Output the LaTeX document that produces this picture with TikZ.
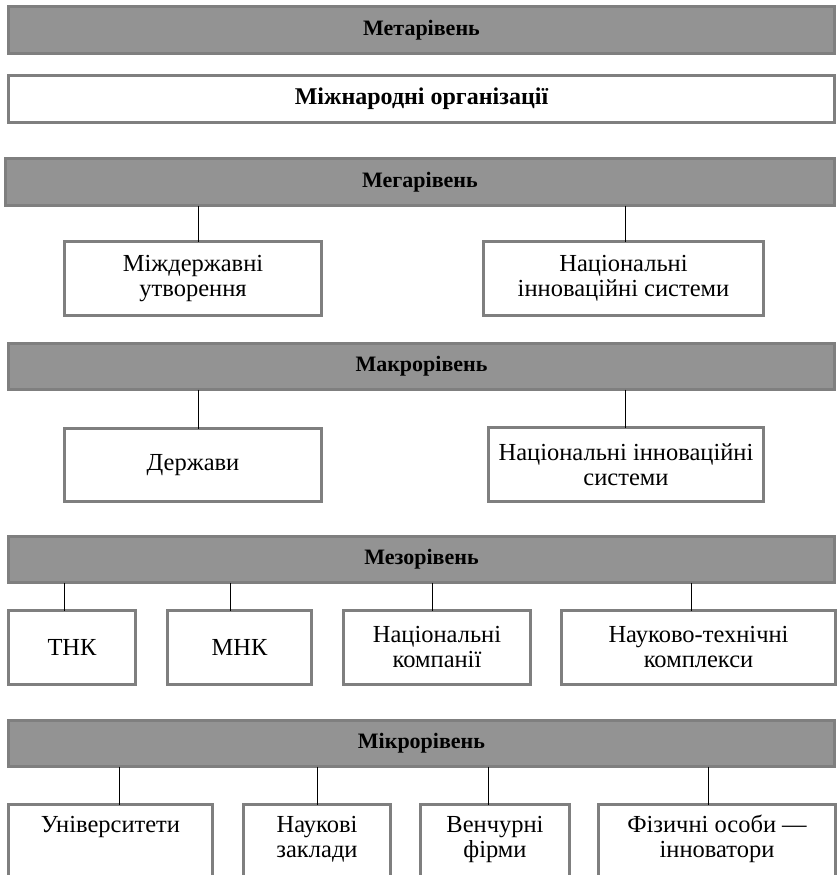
\documentclass[tikz,border=0pt]{standalone}
\usepackage{fontspec}
\setmainfont{Liberation Serif}
\newcommand{\firstln}{\rule{0pt}{20pt}}
\begin{document}
\begin{tikzpicture}[x=1pt,y=-1pt,
  barc/.style={draw=bordc,fill=barfill,line width=3pt,inner sep=0pt,outer sep=0pt,
    font=\fontsize{22}{25}\selectfont\bfseries,minimum height=47pt},
  boxc/.style={draw=bordc,fill=white,line width=3pt,inner sep=0pt,outer sep=0pt,
    font=\fontsize{24.5}{25}\selectfont,align=center},
  topbox/.style={boxc,anchor=north,inner ysep=7.5pt,text depth=70pt},
  link/.style={draw=black,line width=1pt}]
\definecolor{barfill}{RGB}{147,147,147}
\definecolor{bordc}{RGB}{127,127,127}
\useasboundingbox (0,0) rectangle (837,875);
\clip (0,0) rectangle (837,875);
% Meta
\node[barc,minimum width=826pt] (meta) at (421.5,30) {Метарівень};
\node[boxc,minimum width=826pt,minimum height=47pt,font=\fontsize{24}{25}\selectfont\bfseries] (intl) at (421.5,99) {Міжнародні організації};
% Mega
\node[barc,minimum width=829pt] (mega) at (420,182) {Мегарівень};
\node[boxc,minimum width=257pt,minimum height=74pt] (mega1) at (193,278.5) {Міждержавні\\утворення};
\node[boxc,minimum width=280pt,minimum height=74pt] (mega2) at (623.5,278.5) {Національні\\інноваційні системи};
\draw[link] (mega.south -| 198,0) -- (mega1.north -| 198,0);
\draw[link] (mega.south -| 625,0) -- (mega2.north -| 625,0);
% Macro
\node[barc,minimum width=826pt,minimum height=46pt] (macro) at (421.5,366.5) {Макрорівень};
\node[boxc,minimum width=257pt,minimum height=73pt] (macro1) at (193,465) {Держави};
\node[boxc,minimum width=275pt,minimum height=74pt] (macro2) at (626,464.5) {Національні інноваційні\\системи};
\draw[link] (macro.south -| 198,0) -- (macro1.north -| 198,0);
\draw[link] (macro.south -| 625,0) -- (macro2.north -| 625,0);
% Mezo
\node[barc,minimum width=826pt,minimum height=46pt] (mezo) at (421.5,559.5) {Мезорівень};
\node[boxc,minimum width=127pt,minimum height=74pt] (mezo1) at (72,647.5) {ТНК};
\node[boxc,minimum width=144pt,minimum height=74pt] (mezo2) at (239.5,647.5) {МНК};
\node[boxc,minimum width=187pt,minimum height=74pt] (mezo3) at (437,647.5) {Національні\\компанії};
\node[boxc,minimum width=274pt,minimum height=74pt] (mezo4) at (698.5,647.5) {Науково-технічні\\комплекси};
\draw[link] (mezo.south -| 64,0) -- (mezo1.north -| 64,0);
\draw[link] (mezo.south -| 230,0) -- (mezo2.north -| 230,0);
\draw[link] (mezo.south -| 432,0) -- (mezo3.north -| 432,0);
\draw[link] (mezo.south -| 691,0) -- (mezo4.north -| 691,0);
% Micro
\node[barc,minimum width=826pt,minimum height=46pt] (micro) at (421.5,743.5) {Мікрорівень};
\node[topbox,minimum width=204pt] (micro1) at (110.5,804.5) {\firstln Університети};
\node[topbox,minimum width=147pt] (micro2) at (317,804.5) {\firstln Наукові\\заклади};
\node[topbox,minimum width=149pt] (micro3) at (495,804.5) {\firstln Венчурні\\фірми};
\node[topbox,minimum width=237pt] (micro4) at (717,804.5) {\firstln Фізичні особи —\\інноватори};
\draw[link] (micro.south -| 119,0) -- (micro1.north -| 119,0);
\draw[link] (micro.south -| 317,0) -- (micro2.north -| 317,0);
\draw[link] (micro.south -| 488,0) -- (micro3.north -| 488,0);
\draw[link] (micro.south -| 708,0) -- (micro4.north -| 708,0);
\end{tikzpicture}
\end{document}
